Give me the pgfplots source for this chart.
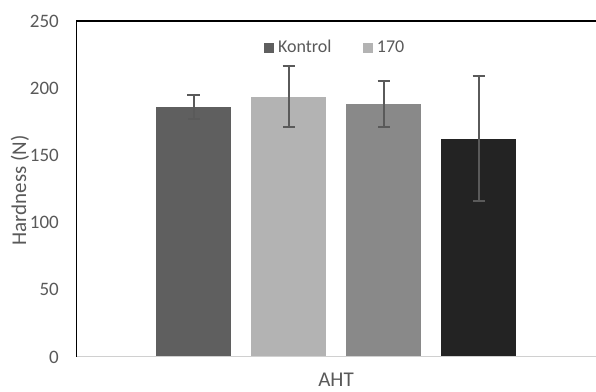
\documentclass[border=0pt]{standalone}
\usepackage{fontspec}
\setmainfont{Carlito}
\usepackage{pgfplots}
\pgfplotsset{compat=1.18}
\definecolor{c1}{HTML}{5F5F5F}
\definecolor{c2}{HTML}{B3B3B3}
\definecolor{c3}{HTML}{898989}
\definecolor{c4}{HTML}{232323}
\definecolor{tx}{HTML}{595959}
\definecolor{eb}{HTML}{5A5A5A}
\definecolor{bl}{HTML}{D0D0D0}
\begin{document}
\fontsize{17.5bp}{21bp}\selectfont
\begin{tikzpicture}
\useasboundingbox (0,0) rectangle (596bp,392bp);
\begin{axis}[
  at={(76bp,35bp)}, anchor=south west,
  scale only axis, width=520bp, height=336bp,
  ybar=20bp, bar width=75bp,
  xmin=-1, xmax=1, xtick={0}, xticklabels={AHT},
  ymin=0, ymax=250, ytick={0,50,...,250},
  axis line style={draw=none},
  major tick length=0pt,
  tick label style={color=tx, font=\fontsize{19bp}{22bp}\selectfont},
  yticklabel style={anchor=east, inner sep=0pt, xshift=-17bp},
  xticklabel style={anchor=north, inner sep=0pt, yshift=-16bp, font=\fontsize{21bp}{24bp}\selectfont},
  /pgf/number format/assume math mode=true,
  ylabel={Hardness (N)},
  every axis y label/.style={at={(rel axis cs:0,0.5)}, xshift=-56bp, yshift=-1.5bp, rotate=90, anchor=center, color=tx, font=\fontsize{21bp}{24bp}\selectfont},
  legend columns=2,
  legend style={draw=none, fill=none, at={(0.498,0.921)}, anchor=center,
    font=\fontsize{18bp}{21bp}\selectfont, text=tx,
    /tikz/every even column/.append style={column sep=29bp}},
  legend image code/.code={\fill[#1] (0bp,-5bp) rectangle (10bp,5bp); \path (12.5bp,0bp);},
  error bars/y dir=both, error bars/y explicit,
  error bars/error bar style={color=eb, line width=2bp},
  error bars/error mark options={rotate=90, mark size=6bp, line width=2bp, color=eb},
]
\addplot[fill=c1, draw=none] coordinates {(0,186) +- (0,8.8)};
\addplot[fill=c2, draw=none] coordinates {(0,193.5) +- (0,22.7)};
\addplot[fill=c3, draw=none] coordinates {(0,188.2) +- (0,17)};
\addplot[fill=c4, draw=none] coordinates {(0,162.5) +- (0,46.8)};
\legend{Kontrol,170}
\draw[bl, line width=2bp] (rel axis cs:0,0) -- (rel axis cs:1,0);
\draw[black, line width=2bp] (rel axis cs:0,0) -- (rel axis cs:0,1) -- (rel axis cs:1,1);
\end{axis}
\end{tikzpicture}
\end{document}
